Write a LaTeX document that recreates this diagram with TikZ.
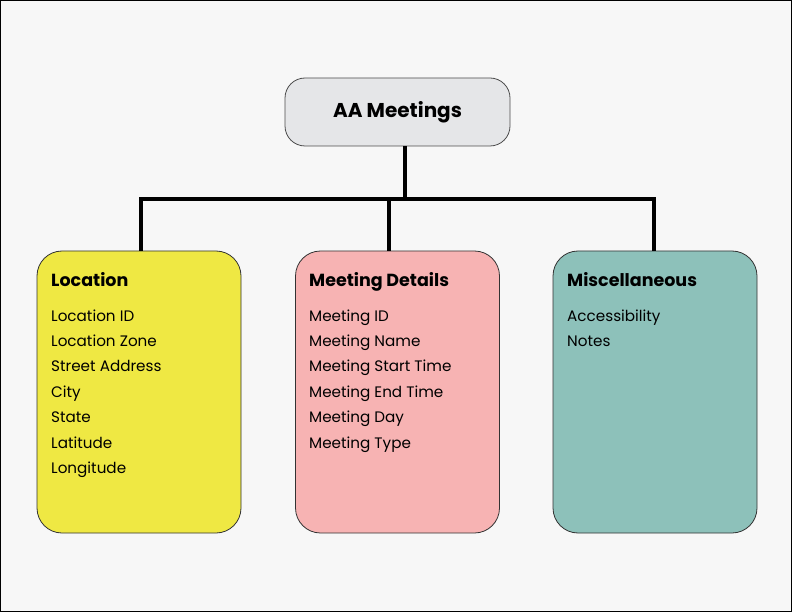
\documentclass[tikz,border=0pt]{standalone}
\usepackage{fontspec}
\setmainfont{Poppins}
\usetikzlibrary{positioning}

\definecolor{pagebg}{HTML}{F7F7F7}
\definecolor{rootgray}{HTML}{E5E6E8}
\definecolor{locyellow}{HTML}{EFE843}
\definecolor{detpink}{HTML}{F7B3B3}
\definecolor{miscteal}{HTML}{8DC1BA}

\tikzset{
  rootbox/.style={draw=black!70, line width=0.8pt, rounded corners=20pt, fill=rootgray,
    minimum width=225pt, minimum height=68pt, font=\fontsize{20}{24}\selectfont\bfseries},
  groupbox/.style={draw=black!80, line width=0.8pt, rounded corners=25pt,
    minimum width=204pt, minimum height=282pt},
  grouptitle/.style={anchor=base west, inner sep=0pt, font=\fontsize{17.5}{20}\selectfont\bfseries},
  field/.style={anchor=base west, inner sep=0pt, font=\fontsize{15.2}{18}\selectfont},
  bus/.style={line width=4pt}
}

\begin{document}
\begin{tikzpicture}[x=1pt,y=-1pt]
\useasboundingbox (0,0) rectangle (792,612);
\fill[pagebg] (0,0) rectangle (792,612);
\draw[line width=2pt] (0,0) rectangle (792,612);

\node[rootbox] (root) at (397.5,112) {AA Meetings};

\node[groupbox, fill=locyellow] (loc) at (139,392) {};
\node[groupbox, fill=detpink] (det) at (397.5,392) {};
\node[groupbox, fill=miscteal] (misc) at (655,392) {};

\coordinate (hub) at (405,199);
\coordinate (busleft) at (141,199);
\coordinate (busmid) at (389,199);
\coordinate (busright) at (654,199);

\draw[bus] (root.south -| hub) -- (hub);
\draw[bus] ([xshift=-2pt]busleft) -- ([xshift=2pt]busright);
\draw[bus] (busleft) -- (busleft |- loc.north);
\draw[bus] (busmid) -- (busmid |- det.north);
\draw[bus] (busright) -- (busright |- misc.north);

\node[grouptitle] (loctitle) at (51,287) {Location};
\foreach \fld [count=\i] in {Location ID, Location Zone, Street Address, City, State, Latitude, Longitude}
  \node[field] (loc-\i) at (51,{321+25.4*(\i-1)}) {\fld};

\node[grouptitle] (dettitle) at (309,287) {Meeting Details};
\foreach \fld [count=\i] in {Meeting ID, Meeting Name, Meeting Start Time, Meeting End Time, Meeting Day, Meeting Type}
  \node[field] (det-\i) at (309,{321+25.4*(\i-1)}) {\fld};

\node[grouptitle] (misctitle) at (567,287) {Miscellaneous};
\foreach \fld [count=\i] in {Accessibility, Notes}
  \node[field] (misc-\i) at (567,{321+25.4*(\i-1)}) {\fld};
\end{tikzpicture}
\end{document}
